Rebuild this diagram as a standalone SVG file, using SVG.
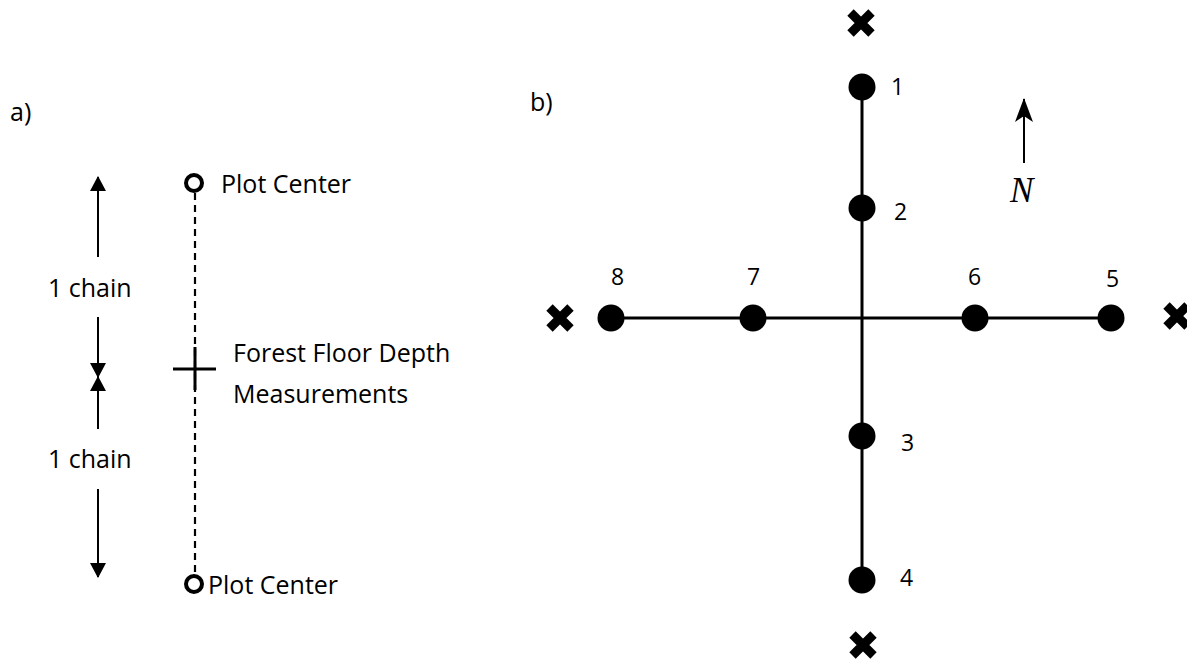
<svg xmlns="http://www.w3.org/2000/svg" width="1187" height="660" viewBox="0 0 1187 660">
  <style>
    .t { font-family: "Open Sans", "Liberation Sans", sans-serif; font-size: 25px; fill: #000; }
    .n { font-family: "Open Sans", "Liberation Sans", sans-serif; font-size: 23px; fill: #000; }
    .ln { stroke: #000; stroke-width: 3; fill: none; }
    .arr { stroke: #000; stroke-width: 2; fill: none; }
    .dash { stroke: #000; stroke-width: 2.2; stroke-dasharray: 7 5; fill: none; }
    .dot { fill: #000; }
    .ring { fill: #fff; stroke: #000; stroke-width: 4; }
    .x { stroke: #000; stroke-width: 9; stroke-linecap: butt; fill: none; }
  </style>
  <defs>
    <marker id="tri" viewBox="0 0 15 16" refX="14" refY="8" markerWidth="15" markerHeight="16" orient="auto" markerUnits="userSpaceOnUse">
      <path d="M0,0 L15,8 L0,16 z" fill="#000"/>
    </marker>
    <marker id="stealth" viewBox="0 0 24 18" refX="23" refY="9" markerWidth="24" markerHeight="18" orient="auto" markerUnits="userSpaceOnUse">
      <path d="M0,0 L24,9 L0,18 L6,9 z" fill="#000"/>
    </marker>
    <path id="xmark" class="x" d="M-10.5,-10.5 L10.5,10.5 M10.5,-10.5 L-10.5,10.5"/>
  </defs>
  <rect width="1187" height="660" fill="#fff"/>

  <!-- Panel labels -->
  <text class="t" x="10" y="121">a)</text>
  <text class="t" x="530" y="111">b)</text>

  <!-- Connectors -->
  <g id="connectors">
    <!-- panel a -->
    <line class="dash" x1="195" y1="193" x2="195" y2="575"/>
    <line class="arr" x1="98" y1="257" x2="98" y2="177" marker-end="url(#tri)"/>
    <line class="arr" x1="98" y1="317" x2="98" y2="377" marker-end="url(#tri)"/>
    <line class="arr" x1="98" y1="429" x2="98" y2="377" marker-end="url(#tri)"/>
    <line class="arr" x1="98" y1="489" x2="98" y2="577" marker-end="url(#tri)"/>
    <!-- panel b -->
    <line class="ln" x1="862" y1="87" x2="862" y2="580"/>
    <line class="ln" x1="611" y1="318" x2="1111" y2="318"/>
    <line class="arr" x1="1024" y1="163" x2="1024" y2="99" marker-end="url(#stealth)"/>
  </g>

  <!-- Panel a nodes -->
  <g id="plot-center-top">
    <circle class="ring" cx="194" cy="183" r="8"/>
    <text class="t" x="221" y="193">Plot Center</text>
  </g>
  <g id="plot-center-bottom">
    <circle class="ring" cx="194" cy="584" r="8"/>
    <text class="t" x="208" y="594">Plot Center</text>
  </g>
  <g id="depth-measurement">
    <line class="ln" x1="173" y1="369" x2="216" y2="369"/>
    <line class="ln" x1="195" y1="347" x2="195" y2="390"/>
    <text class="t" x="233" y="362">Forest Floor Depth</text>
    <text class="t" x="233" y="403">Measurements</text>
  </g>
  <g id="chain-labels">
    <text class="t" x="48" y="297">1 chain</text>
    <text class="t" x="48" y="468">1 chain</text>
  </g>

  <!-- Panel b nodes -->
  <g id="p1"><circle class="dot" cx="862" cy="87" r="13.5"/><text class="n" x="891" y="95">1</text></g>
  <g id="p2"><circle class="dot" cx="862" cy="208" r="13.5"/><text class="n" x="894" y="220">2</text></g>
  <g id="p3"><circle class="dot" cx="862" cy="436" r="13.5"/><text class="n" x="901" y="451">3</text></g>
  <g id="p4"><circle class="dot" cx="862" cy="580" r="13.5"/><text class="n" x="900" y="586">4</text></g>
  <g id="p5"><circle class="dot" cx="1111" cy="318" r="13.5"/><text class="n" x="1106" y="287">5</text></g>
  <g id="p6"><circle class="dot" cx="975" cy="318" r="13.5"/><text class="n" x="968" y="285">6</text></g>
  <g id="p7"><circle class="dot" cx="753" cy="318" r="13.5"/><text class="n" x="747" y="285">7</text></g>
  <g id="p8"><circle class="dot" cx="611" cy="318" r="13.5"/><text class="n" x="611" y="285">8</text></g>

  <g id="x-north"><use href="#xmark" x="861" y="23"/></g>
  <g id="x-south"><use href="#xmark" x="863" y="645"/></g>
  <g id="x-west"><use href="#xmark" x="560" y="318"/></g>
  <g id="x-east"><use href="#xmark" x="1177" y="316"/></g>

  <g id="north">
    <text x="1010" y="202" style="font-family: 'Liberation Serif', serif; font-style: italic; font-size: 35px; fill: #000;">N</text>
  </g>
</svg>
